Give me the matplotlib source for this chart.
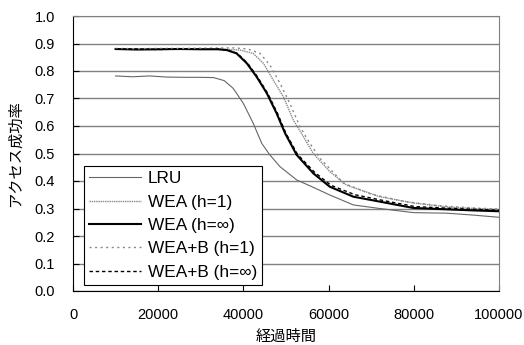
import matplotlib
matplotlib.use('Agg')
import matplotlib.pyplot as plt
import numpy as np

plt.rcParams['font.family'] = ['Liberation Sans', 'Noto Sans CJK JP', 'DejaVu Sans']

# 経過時間 vs アクセス成功率
lru_x = [10000, 14000, 18000, 22000, 26000, 30000, 33000, 35500, 37600, 40000, 42300,
         44300, 46200, 48600, 52500, 56400, 60300, 65800, 72000, 79900, 87700, 94000, 100000]
lru_y = [0.782, 0.779, 0.782, 0.778, 0.777, 0.777, 0.776, 0.765, 0.737, 0.682, 0.610,
         0.537, 0.495, 0.452, 0.404, 0.377, 0.349, 0.313, 0.300, 0.285, 0.283, 0.276, 0.268]

wea1_x = [10000, 15000, 20000, 25000, 30000, 35000, 39200, 42300, 44700, 47000, 49400,
          51700, 54100, 56400, 60300, 64200, 72000, 79900, 87700, 94000, 100000]
wea1_y = [0.880, 0.879, 0.881, 0.880, 0.881, 0.880, 0.876, 0.864, 0.828, 0.767, 0.706,
          0.622, 0.561, 0.500, 0.434, 0.385, 0.343, 0.320, 0.306, 0.300, 0.296]

weainf_x = [10000, 15000, 20000, 25000, 30000, 34000, 36100, 38400, 40800, 43100, 45500,
            47800, 49800, 52500, 56400, 60300, 65800, 72000, 79900, 87700, 94000, 100000]
weainf_y = [0.880, 0.878, 0.879, 0.880, 0.879, 0.879, 0.876, 0.864, 0.828, 0.779, 0.719,
            0.646, 0.573, 0.495, 0.428, 0.379, 0.343, 0.325, 0.302, 0.297, 0.293, 0.290]

weab1_x = [10000, 15000, 20000, 25000, 30000, 35000, 38000, 41000, 43900, 46200, 48600,
           50900, 53300, 55600, 58000, 63500, 70000, 78000, 86000, 94000, 100000]
weab1_y = [0.882, 0.881, 0.882, 0.882, 0.883, 0.884, 0.884, 0.880, 0.864, 0.822, 0.755,
           0.682, 0.597, 0.537, 0.482, 0.392, 0.352, 0.325, 0.310, 0.302, 0.298]

weabinf_x = [10000, 15000, 20000, 25000, 30000, 34000, 36300, 38600, 41000, 43300, 45700,
             48000, 50000, 52700, 56700, 60600, 66200, 72500, 80300, 88000, 94000, 100000]
weabinf_y = [0.879, 0.880, 0.878, 0.880, 0.879, 0.880, 0.876, 0.864, 0.828, 0.779, 0.719,
             0.646, 0.573, 0.497, 0.432, 0.384, 0.350, 0.330, 0.307, 0.301, 0.297, 0.294]

fig = plt.figure(figsize=(5.24, 3.45), dpi=100)
ax = fig.add_axes([73 / 524, 1 - 291 / 345, 426 / 524, 275 / 345])

ax.plot(lru_x, lru_y, color='#666666', lw=0.8, label='LRU')
ax.plot(wea1_x, wea1_y, color='#888888', lw=1.0, ls=(0, (1, 0.6)), label='WEA (h=1)')
ax.plot(weainf_x, weainf_y, color='black', lw=1.5, label='WEA (h=∞)')
ax.plot(weab1_x, weab1_y, color='#888888', lw=1.0, ls=(0, (1.5, 2.5)), label='WEA+B (h=1)')
ax.plot(weabinf_x, weabinf_y, color='black', lw=1.0, ls=(0, (2.5, 2)), label='WEA+B (h=∞)')

ax.set_xlim(0, 100000)
ax.set_ylim(0, 1.0)
ax.set_xticks(np.arange(0, 100001, 20000))
ax.set_yticks(np.arange(0, 1.01, 0.1))
ax.set_yticklabels(['%.1f' % v for v in np.arange(0, 1.01, 0.1)])
ax.yaxis.grid(True, color='#808080', lw=1.0)
ax.set_axisbelow(True)
ax.tick_params(axis='x', direction='in', length=4, pad=12, labelsize=10.5)
ax.tick_params(axis='y', direction='in', length=4, pad=13, labelsize=10.5)
for s in ['top', 'right']:
    ax.spines[s].set_color('#808080')

ax.set_xlabel('経過時間', fontsize=11, labelpad=6)
ax.set_ylabel('アクセス成功率', fontsize=11, labelpad=8)

leg = ax.legend(loc='lower left', bbox_to_anchor=(0.026, 0.022), fontsize=12.4,
                frameon=True, fancybox=False, edgecolor='black', framealpha=1,
                handlelength=3.0, handletextpad=0.4, labelspacing=0.48,
                borderpad=0.3, borderaxespad=0)
leg.get_frame().set_linewidth(0.8)

fig.savefig('out.png', dpi=100)
